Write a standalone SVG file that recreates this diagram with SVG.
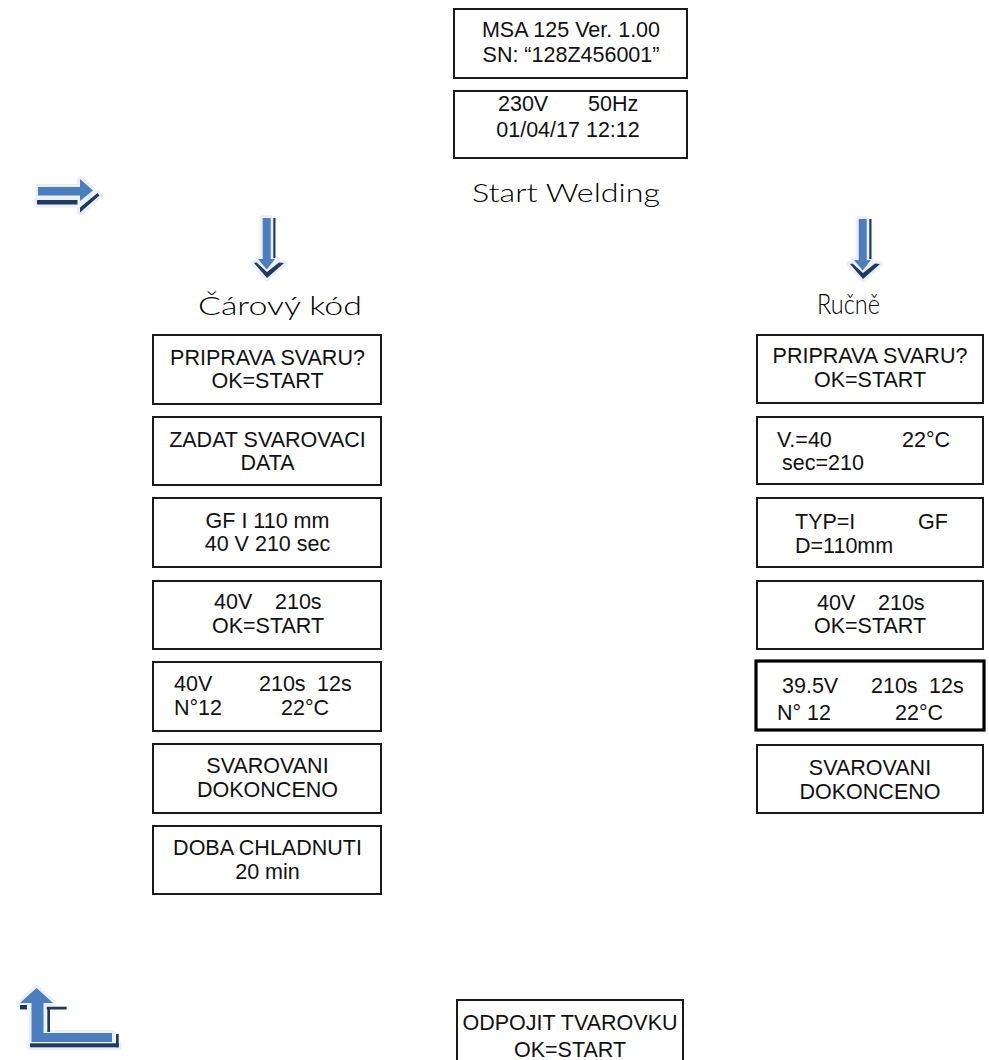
<svg xmlns="http://www.w3.org/2000/svg" width="989" height="1060" viewBox="0 0 989 1060">
<style>
.box{fill:#fff;stroke:#1a1a1a;stroke-width:2}
.thick{fill:#fff;stroke:#000;stroke-width:3.2}
.t{font-family:"Liberation Sans",Arial,sans-serif;font-size:21.5px;fill:#111}
.c{text-anchor:middle}
.lbl{font-family:Lato,"DejaVu Sans",sans-serif;font-weight:300;font-size:26px;fill:#000}
.lb{fill:#4A7EBE}
.db{fill:#1F3A60}
.glow{fill:#ECEFF4;stroke:#ECEFF4;stroke-width:6;stroke-linejoin:round}
</style>
<rect width="989" height="1060" fill="#fff"/>

<g id="connectors">
  <g id="arrow-right">
    <g class="glow">
      <rect x="38" y="187" width="43" height="8.5"/>
      <polygon points="80,179 93,190.5 80,201"/>
      <rect x="37" y="200" width="40.5" height="4.5"/>
      <polygon points="80,207.5 97.5,193 99.5,195.5 80,212.5"/>
    </g>
    <rect class="lb" x="38" y="187" width="43" height="8.5"/>
    <polygon class="lb" points="80,179 93,190.5 80,201"/>
    <rect class="db" x="37" y="200" width="40.5" height="4.5"/>
    <polygon class="db" points="80,207.5 97.5,193 99.5,195.5 80,212.5"/>
  </g>
  <g id="arrow-down-left">
    <g class="glow">
      <rect x="262.7" y="218" width="8" height="44"/>
      <polygon points="258,259 275,259 266.7,269.5"/>
      <polygon points="254,263 267,278 284,263 279,262.5 267,272 256.5,262.5"/>
    </g>
    <rect class="lb" x="262.7" y="218" width="8" height="44"/>
    <rect class="db" x="273.3" y="218" width="2.2" height="40"/>
    <polygon class="lb" points="258,259 275,259 266.7,269.5"/>
    <polygon class="db" points="254,263 267,278 284,263 279,262.5 267,272 256.5,262.5"/>
  </g>
  <g id="arrow-down-right" transform="translate(596,1)">
    <g class="glow">
      <rect x="262.7" y="218" width="8" height="44"/>
      <polygon points="258,259 275,259 266.7,269.5"/>
      <polygon points="254,263 267,278 284,263 279,262.5 267,272 256.5,262.5"/>
    </g>
    <rect class="lb" x="262.7" y="218" width="8" height="44"/>
    <rect class="db" x="273.3" y="218" width="2.2" height="40"/>
    <polygon class="lb" points="258,259 275,259 266.7,269.5"/>
    <polygon class="db" points="254,263 267,278 284,263 279,262.5 267,272 256.5,262.5"/>
  </g>
  <g id="arrow-back">
    <g class="glow">
      <path d="M20,1003 L36.5,988 L53,1003 L43.5,1003 L43.5,1033 L112,1033 L112,1042 L31.5,1042 L31.5,1003 Z"/>
      <rect x="30" y="1043" width="88.5" height="4.3"/>
    </g>
    <path class="lb" d="M20,1003 L36.5,988 L53,1003 L43.5,1003 L43.5,1033 L112,1033 L112,1042 L31.5,1042 L31.5,1003 Z"/>
    <rect class="db" x="20" y="1005" width="7" height="4.5"/>
    <rect class="db" x="46.7" y="1006.7" width="20" height="2.8"/>
    <rect class="db" x="47.3" y="1007" width="2.7" height="25"/>
    <rect class="db" x="30" y="1043.3" width="88.7" height="4"/>
    <rect class="db" x="116" y="1034" width="2.7" height="13.3"/>
  </g>
</g>

<g id="box-version">
  <rect class="box" x="454" y="9" width="233" height="69"/>
  <text class="t c" x="571" y="37">MSA 125 Ver. 1.00</text>
  <text class="t c" x="571" y="62">SN: “128Z456001”</text>
</g>
<g id="box-power">
  <rect class="box" x="454" y="91" width="233" height="67"/>
  <text class="t" x="498" y="111">230V</text>
  <text class="t" x="588" y="111">50Hz</text>
  <text class="t c" x="568" y="137">01/04/17 12:12</text>
</g>
<g id="label-start">
  <text class="lbl" x="472" y="202" textLength="188" lengthAdjust="spacingAndGlyphs">Start Welding</text>
</g>
<g id="label-barcode">
  <text class="lbl" x="198" y="315" textLength="164" lengthAdjust="spacingAndGlyphs">Čárový kód</text>
</g>
<g id="label-manual">
  <text class="lbl" x="817" y="314" style="font-size:28px" textLength="63" lengthAdjust="spacingAndGlyphs">Ručně</text>
</g>

<g id="L1">
  <rect class="box" x="153" y="335" width="228" height="69"/>
  <text class="t c" x="267.5" y="365">PRIPRAVA SVARU?</text>
  <text class="t c" x="267.5" y="388">OK=START</text>
</g>
<g id="L2">
  <rect class="box" x="153" y="417" width="228" height="68"/>
  <text class="t c" x="267.5" y="447">ZADAT SVAROVACI</text>
  <text class="t c" x="267.5" y="470">DATA</text>
</g>
<g id="L3">
  <rect class="box" x="153" y="498" width="228" height="69"/>
  <text class="t c" x="267.5" y="528">GF I 110 mm</text>
  <text class="t c" x="267.5" y="551">40 V 210 sec</text>
</g>
<g id="L4">
  <rect class="box" x="153" y="581" width="228" height="68"/>
  <text class="t" x="214" y="609">40V</text>
  <text class="t" x="275" y="609">210s</text>
  <text class="t c" x="268" y="633">OK=START</text>
</g>
<g id="L5">
  <rect class="box" x="153" y="662" width="228" height="69"/>
  <text class="t" x="174" y="691">40V</text>
  <text class="t" x="259" y="691">210s</text>
  <text class="t" x="317" y="691">12s</text>
  <text class="t" x="174" y="715">N°12</text>
  <text class="t" x="281" y="715">22°C</text>
</g>
<g id="L6">
  <rect class="box" x="153" y="744" width="228" height="69"/>
  <text class="t c" x="267.5" y="773">SVAROVANI</text>
  <text class="t c" x="267.5" y="797">DOKONCENO</text>
</g>
<g id="L7">
  <rect class="box" x="153" y="826" width="228" height="68"/>
  <text class="t c" x="267.5" y="855">DOBA CHLADNUTI</text>
  <text class="t c" x="267.5" y="879">20 min</text>
</g>

<g id="R1">
  <rect class="box" x="757" y="335" width="226" height="68"/>
  <text class="t c" x="870" y="363">PRIPRAVA SVARU?</text>
  <text class="t c" x="870" y="387">OK=START</text>
</g>
<g id="R2">
  <rect class="box" x="757" y="417" width="226" height="67"/>
  <text class="t" x="777" y="447">V.=40</text>
  <text class="t" x="902" y="447">22°C</text>
  <text class="t" x="782" y="470">sec=210</text>
</g>
<g id="R3">
  <rect class="box" x="757" y="498" width="226" height="69"/>
  <text class="t" x="795" y="529">TYP=I</text>
  <text class="t" x="918" y="529">GF</text>
  <text class="t" x="795" y="553">D=110mm</text>
</g>
<g id="R4">
  <rect class="box" x="757" y="581" width="226" height="68"/>
  <text class="t" x="817" y="610">40V</text>
  <text class="t" x="878" y="610">210s</text>
  <text class="t c" x="870" y="633">OK=START</text>
</g>
<g id="R5">
  <rect class="thick" x="756" y="661" width="228" height="69"/>
  <text class="t" x="782" y="693">39.5V</text>
  <text class="t" x="871" y="693">210s</text>
  <text class="t" x="929" y="693">12s</text>
  <text class="t" x="777" y="720">N° 12</text>
  <text class="t" x="895" y="720">22°C</text>
</g>
<g id="R6">
  <rect class="box" x="757" y="745" width="226" height="68"/>
  <text class="t c" x="870" y="775">SVAROVANI</text>
  <text class="t c" x="870" y="799">DOKONCENO</text>
</g>

<g id="B1">
  <rect class="box" x="457" y="1000" width="226" height="80"/>
  <text class="t c" x="570" y="1030">ODPOJIT TVAROVKU</text>
  <text class="t c" x="570" y="1057">OK=START</text>
</g>
</svg>
